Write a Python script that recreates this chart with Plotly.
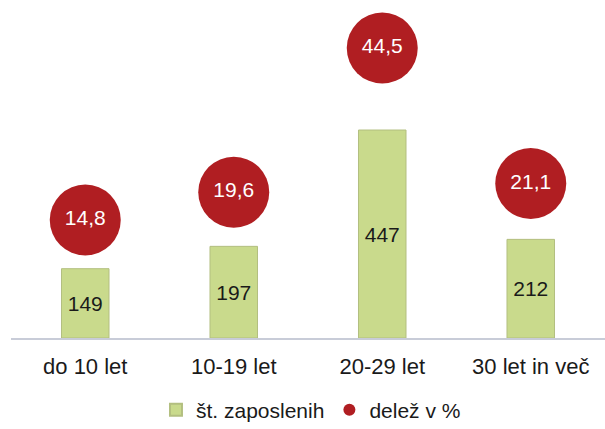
import plotly.graph_objects as go

categories = ["do 10 let", "10-19 let", "20-29 let", "30 let in več"]
employees = [149, 197, 447, 212]
share_pct = [14.8, 19.6, 44.5, 21.1]

FONT = "Liberation Sans, Arial, sans-serif"

fig = go.Figure()
fig.add_trace(go.Bar(
    x=categories, y=employees, name="št. zaposlenih",
    marker=dict(color="#c9da8c", line=dict(color="#b3bf80", width=1)),
    width=0.32,
    text=employees, textposition="inside", insidetextanchor="middle",
    textfont=dict(size=21, color="#1a1a1a", family=FONT),
    cliponaxis=False,
))
fig.add_trace(go.Scatter(
    x=categories, y=share_pct, name="delež v %", yaxis="y2",
    mode="markers+text",
    marker=dict(size=71, color="#b01e22"),
    texttemplate="%{y:.1f}", textposition="middle center",
    textfont=dict(size=21, color="white", family=FONT),
    cliponaxis=False,
))

fig.update_layout(
    width=605, height=429,
    margin=dict(l=11, r=0, t=10, b=91),
    paper_bgcolor="white", plot_bgcolor="white",
    separators=",.",
    font=dict(family=FONT, size=21, color="#1a1a1a"),
    showlegend=True,
    legend=dict(orientation="h", x=0.505, xanchor="center", yref="container",
                y=0.044, yanchor="middle", font=dict(size=21),
                itemsizing="constant", itemwidth=30, tracegroupgap=0),
    xaxis=dict(showline=True, linecolor="#c8ccd8", linewidth=1.5, ticks="outside",
               ticklen=8, tickcolor="white", tickfont=dict(size=22),
               showgrid=False, zeroline=False),
    yaxis=dict(range=[0, 705], visible=False, showgrid=False, zeroline=False),
    yaxis2=dict(range=[-5.58, 51.07], overlaying="y", visible=False,
                showgrid=False, zeroline=False),
)

fig.write_html("out.html", config={"displayModeBar": False},
               post_script="document.body.style.margin='0';")
